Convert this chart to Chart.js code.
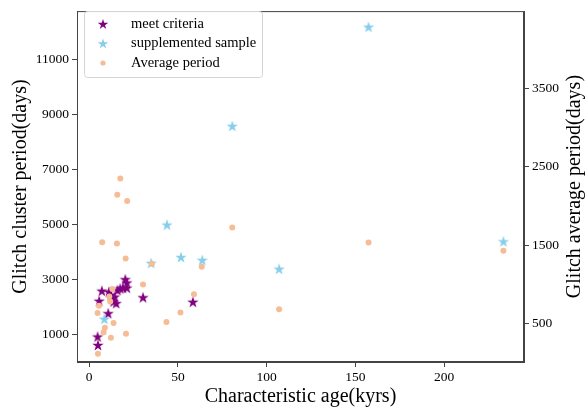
<!DOCTYPE html>
<html>
<head>
<meta charset="utf-8">
<script src="https://cdn.jsdelivr.net/npm/chart.js@4.4.1/dist/chart.umd.min.js"></script>
<style>
  html, body { margin: 0; padding: 0; background: #fff; }
  #wrap { width: 585px; height: 413px; }
</style>
</head>
<body>
<div id="wrap"><canvas id="c" width="585" height="413"></canvas></div>
<script>
/* Glitch cluster period vs characteristic age, twin y axes */

// meet criteria (left axis)
const AGE_MEET     = [4.7, 4.9, 5.6, 7.1, 10.7, 11.1, 12.2, 13.1, 13.7, 14.3, 15.2, 15.9, 17.5, 19.0, 20.3, 21.2, 21.2, 30.3, 58.4];
const CLUSTER_MEET = [914, 607, 2214, 2582, 1761, 2546, 2429, 2307, 2189, 2368, 2129, 2607, 2664, 2689, 3000, 2879, 2689, 2343, 2179];

// supplemented sample (left axis)
const AGE_SUPP     = [8.5, 34.9, 43.8, 51.7, 63.7, 80.6, 107, 157.4, 233.4];
const CLUSTER_SUPP = [1557, 3593, 4986, 3807, 3700, 8580, 3379, 12189, 4379];

// average period (right axis)
const AGE_AVG    = [17.5, 15.8, 21.4, 7.3, 15.6, 20.5, 35.3, 80.6, 63.4, 30.3, 13.0, 59.0, 11.3, 11.8, 5.5, 4.7, 51.4, 43.5, 13.7, 8.8, 8.1, 12.2, 20.7, 4.9, 107, 157.4, 233.4];
const PERIOD_AVG = [2350, 2142, 2063, 1537, 1521, 1330, 1263, 1725, 1225, 1000, 942, 875, 846, 784, 730, 637, 642, 521, 509, 450, 392, 321, 371, 117, 684, 1534, 1430];

const X_TICKS  = [0, 50, 100, 150, 200];
const YL_TICKS = [1000, 3000, 5000, 7000, 9000, 11000];
const YR_TICKS = [500, 1500, 2500, 3500];

const SERIF = "'Liberation Serif', 'DejaVu Serif', serif";
const C_MEET = '#800080';
const C_SUPP = '#87ceeb';
const C_AVG  = '#f5bc96';

function starPath(ctx, cx, cy, r) {
  const inner = r * 0.382;
  ctx.beginPath();
  for (let i = 0; i < 10; i++) {
    const a = -Math.PI / 2 + i * Math.PI / 5;
    const rr = i % 2 === 0 ? r : inner;
    const px = cx + rr * Math.cos(a), py = cy + rr * Math.sin(a);
    if (i === 0) ctx.moveTo(px, py); else ctx.lineTo(px, py);
  }
  ctx.closePath();
}

function starCanvas(color, r) {
  const cv = document.createElement('canvas');
  const s = Math.ceil(r * 2 + 2);
  cv.width = s; cv.height = s;
  const g = cv.getContext('2d');
  starPath(g, s / 2, s / 2 + r * 0.1, r);
  g.fillStyle = color;
  g.fill();
  return cv;
}

const starMeet = starCanvas(C_MEET, 6);
const starSupp = starCanvas(C_SUPP, 6);

const pts = (xs, ys) => xs.map((x, i) => ({ x, y: ys[i] }));

// frame, axis titles and legend box (matplotlib look)
const decor = {
  id: 'decor',
  afterDatasetsDraw(chart) {
    const { ctx, chartArea: a } = chart;
    ctx.save();
    ctx.strokeStyle = '#444';
    ctx.lineWidth = 1;
    ctx.strokeRect(a.left + 0.5, a.top + 0.5, a.right - a.left - 1, a.bottom - a.top - 1);

    ctx.fillStyle = '#000';
    ctx.font = '20px ' + SERIF;
    ctx.textAlign = 'center';
    ctx.textBaseline = 'middle';
    const midY = (a.top + a.bottom) / 2;
    ctx.fillText('Characteristic age(kyrs)', (a.left + a.right) / 2, 397);
    ctx.save();
    ctx.translate(21, midY);
    ctx.rotate(-Math.PI / 2);
    ctx.fillText('Glitch cluster period(days)', 0, 0);
    ctx.restore();
    ctx.save();
    ctx.translate(575, midY);
    ctx.rotate(-Math.PI / 2);
    ctx.fillText('Glitch average period(days)', 0, 0);
    ctx.restore();

    // legend
    const bx = 84, by = 11, bw = 178, bh = 66;
    ctx.beginPath();
    ctx.roundRect(bx + 0.5, by + 0.5, bw, bh, 3);
    ctx.fillStyle = 'rgba(255,255,255,0.85)';
    ctx.fill();
    ctx.strokeStyle = '#d4d4d4';
    ctx.stroke();
    ctx.font = '14.5px ' + SERIF;
    ctx.textAlign = 'left';
    chart.data.datasets.forEach((ds, i) => {
      const y = 24 + i * 19.5;
      if (ds.pointStyle === 'circle') {
        ctx.beginPath();
        ctx.arc(103, y, 2.6, 0, Math.PI * 2);
        ctx.fillStyle = ds.backgroundColor;
        ctx.fill();
      } else {
        starPath(ctx, 103, y + 0.5, 5.5);
        ctx.fillStyle = ds.backgroundColor;
        ctx.fill();
      }
      ctx.fillStyle = '#000';
      ctx.fillText(ds.label, 131, y);
    });
    ctx.restore();
  }
};

function fixTicks(list) {
  return scale => { scale.ticks = list.map(v => ({ value: v })); };
}

const tickFont = { family: SERIF, size: 13.5 };
const plain = v => String(v);

new Chart(document.getElementById('c'), {
  type: 'scatter',
  data: {
    datasets: [
      {
        label: 'meet criteria',
        data: pts(AGE_MEET, CLUSTER_MEET),
        yAxisID: 'y',
        pointStyle: starMeet,
        backgroundColor: C_MEET,
        order: 2,
      },
      {
        label: 'supplemented sample',
        data: pts(AGE_SUPP, CLUSTER_SUPP),
        yAxisID: 'y',
        pointStyle: starSupp,
        backgroundColor: C_SUPP,
        order: 1,
      },
      {
        label: 'Average period',
        data: pts(AGE_AVG, PERIOD_AVG),
        yAxisID: 'y2',
        pointStyle: 'circle',
        pointRadius: 3,
        borderWidth: 0,
        backgroundColor: C_AVG,
        order: 0,
      },
    ],
  },
  options: {
    responsive: false,
    animation: false,
    devicePixelRatio: 1,
    layout: { padding: { top: 4, left: 0, right: 0, bottom: 0 } },
    plugins: { legend: { display: false }, tooltip: { enabled: false } },
    scales: {
      x: {
        type: 'linear',
        min: -6.9, max: 245,
        afterBuildTicks: fixTicks(X_TICKS),
        afterFit: s => { s.height = 51; },
        grid: { drawOnChartArea: false, tickLength: 5, color: '#444' },
        border: { color: '#444' },
        ticks: { color: '#000', font: tickFont, padding: 2, callback: plain },
      },
      y: {
        type: 'linear',
        position: 'left',
        min: -14, max: 12760,
        afterBuildTicks: fixTicks(YL_TICKS),
        afterFit: s => { s.width = 77; },
        grid: { drawOnChartArea: false, tickLength: 5, color: '#444' },
        border: { color: '#444' },
        ticks: { color: '#000', font: tickFont, padding: 3, callback: plain },
      },
      y2: {
        type: 'linear',
        position: 'right',
        min: 12.5, max: 4483,
        afterBuildTicks: fixTicks(YR_TICKS),
        afterFit: s => { s.width = 61; },
        grid: { drawOnChartArea: false, tickLength: 5, color: '#444' },
        border: { color: '#444' },
        ticks: { color: '#000', font: tickFont, padding: 3, callback: plain },
      },
    },
  },
  plugins: [decor],
});
</script>
</body>
</html>
